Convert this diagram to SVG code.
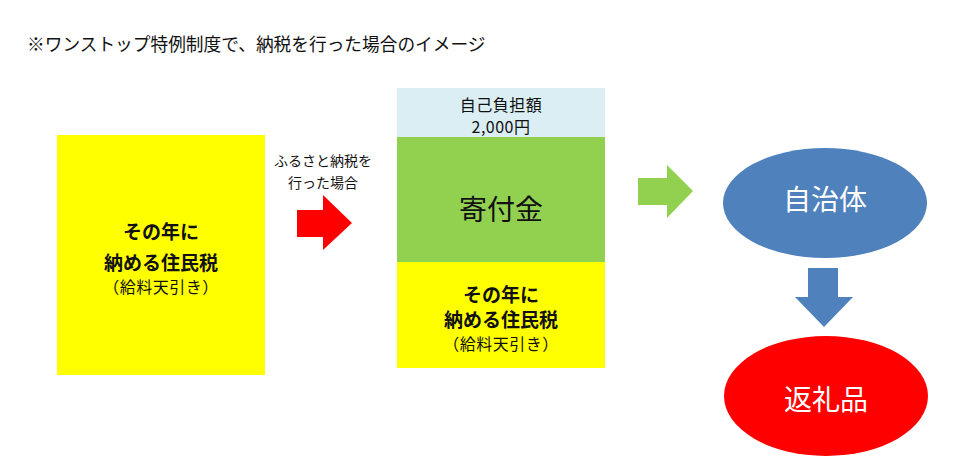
<svg xmlns="http://www.w3.org/2000/svg" width="960" height="474" viewBox="0 0 960 474">
<style>
text{font-family:"Noto Sans CJK JP","Noto Sans",sans-serif;fill:#111;text-anchor:middle;dominant-baseline:central}
.b{font-weight:bold;font-size:19px}
.s{font-size:16px;letter-spacing:0.5px}
.w{fill:#fff;font-size:28px}
</style>
<rect width="960" height="474" fill="#fff"/>
<text x="27" y="43" style="text-anchor:start;font-size:17.7px">※ワンストップ特例制度で、納税を行った場合のイメージ</text>
<g id="left-tax">
<rect x="57" y="135" width="208" height="240" fill="#ffff00"/>
<text class="b" x="161" y="230">その年に</text>
<text class="b" x="161" y="261">納める住民税</text>
<text class="s" x="161" y="286">（給料天引き）</text>
</g>
<g id="label-furusato">
<text x="323" y="160" style="font-size:14px">ふるさと納税を</text>
<text x="323" y="182" style="font-size:14px">行った場合</text>
</g>
<g id="self-burden">
<rect x="397" y="88" width="208" height="49" fill="#daeef3"/>
<text class="s" x="501" y="104">自己負担額</text>
<text class="s" x="501" y="126">2,000円</text>
</g>
<g id="donation">
<rect x="397" y="137" width="208" height="125" fill="#92d050"/>
<text x="501" y="208" style="font-size:28px">寄付金</text>
</g>
<g id="mid-tax">
<rect x="397" y="262" width="208" height="106" fill="#ffff00"/>
<text class="b" x="501" y="293">その年に</text>
<text class="b" x="501" y="318">納める住民税</text>
<text class="s" x="501" y="343">（給料天引き）</text>
</g>
<g id="municipality">
<ellipse cx="825" cy="203" rx="102" ry="55" fill="#4f81bd"/>
<text class="w" x="825" y="198">自治体</text>
</g>
<g id="gift">
<ellipse cx="826" cy="396" rx="102" ry="60" fill="#ff0000"/>
<text class="w" x="826" y="398">返礼品</text>
</g>
<g id="connectors">
<polygon points="297,210 323,210 323,195 352,223 323,250 323,237 297,237" fill="#ff0000"/>
<polygon points="638,178 667,178 667,165 693,191 667,218 667,205 638,205" fill="#92d050"/>
<polygon points="808,268 838,268 838,297 853,297 824,327 795,297 808,297" fill="#4f81bd"/>
</g>
</svg>
